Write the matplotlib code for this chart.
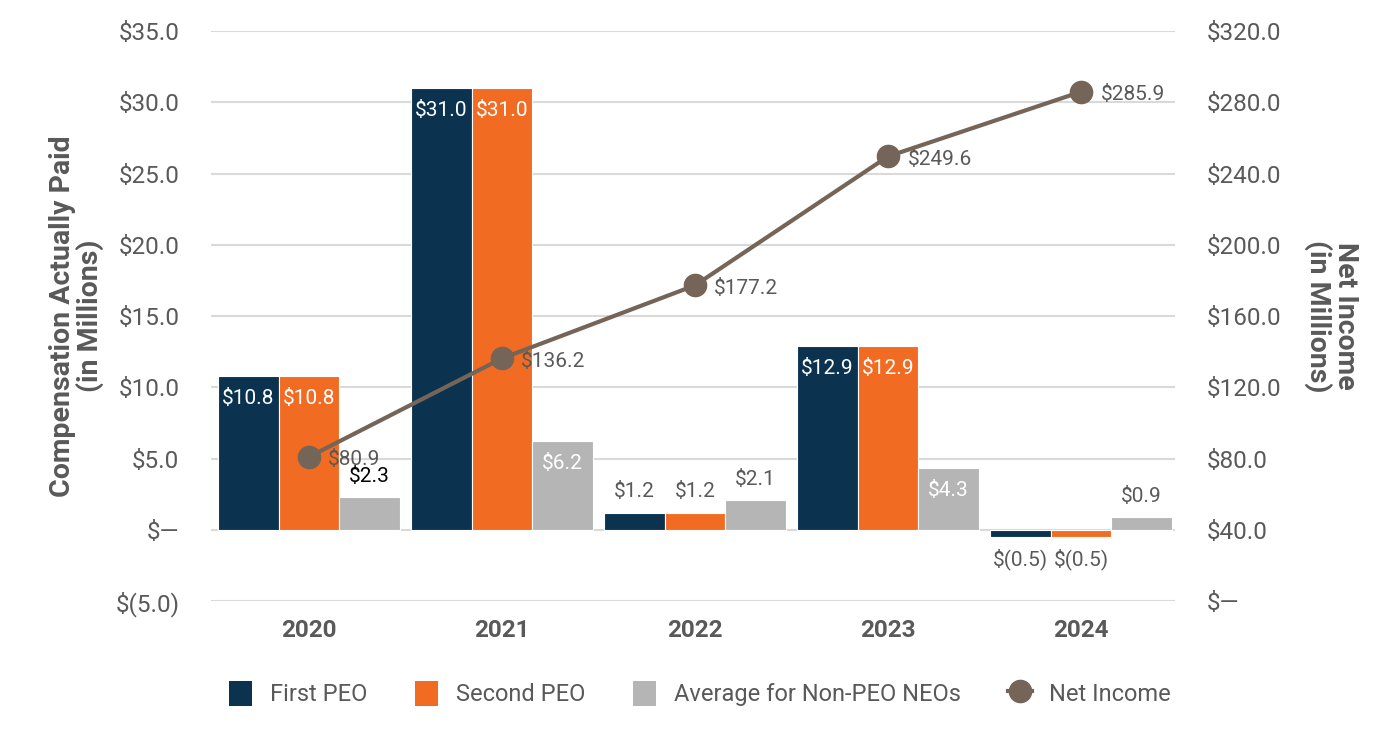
import matplotlib
matplotlib.use("Agg")
import matplotlib.pyplot as plt
from matplotlib.lines import Line2D
from matplotlib.patches import Patch
import numpy as np

plt.rcParams['font.family'] = ['Roboto', 'DejaVu Sans']

years = ["2020", "2021", "2022", "2023", "2024"]
first_peo = [10.8, 31.0, 1.2, 12.9, -0.5]
second_peo = [10.8, 31.0, 1.2, 12.9, -0.5]
avg_neo = [2.3, 6.2, 2.1, 4.3, 0.9]
net_income = [80.9, 136.2, 177.2, 249.6, 285.9]

navy = "#0B3350"
orange = "#F26B22"
gray = "#B5B5B5"
brown = "#756558"
text_gray = "#595959"


def money(v):
    if abs(v) < 1e-9:
        return "$\u2014"
    if v < 0:
        return "$({:.1f})".format(-v)
    return "${:.1f}".format(v)


fig = plt.figure(figsize=(14, 7.48), dpi=100)
ax = fig.add_axes([0.151, 0.1965, 0.688, 0.762])

x = np.arange(len(years))
width = 0.313

series = [(first_peo, navy, -width), (second_peo, orange, 0), (avg_neo, gray, width)]
for vals, color, off in series:
    rects = ax.bar(x + off, vals, width, color=color, edgecolor="white", linewidth=0.8, zorder=2)
    for r, v in zip(rects, vals):
        cx = r.get_x() + r.get_width() / 2
        if v > 4:
            ax.annotate(money(v), (cx, v), xytext=(0, -16), textcoords="offset points",
                        ha="center", va="center", color="white", fontsize=15, zorder=3)
        elif v >= 0:
            c = "black" if v == 2.3 else text_gray
            ax.annotate(money(v), (cx, v), xytext=(0, 15), textcoords="offset points",
                        ha="center", va="center", color=c, fontsize=15, zorder=3)
        else:
            ax.annotate(money(v), (cx, v), xytext=(0, -16), textcoords="offset points",
                        ha="center", va="center", color=text_gray, fontsize=15, zorder=3)

ax.set_ylim(-5, 35)
ax.set_xlim(-0.505, 4.485)
ax.set_yticks(np.arange(-5, 36, 5))
ax.set_yticklabels([money(v) for v in np.arange(-5, 36, 5)])
ax.set_xticks(x)
ax.set_xticklabels(years, fontweight="bold")
ax.grid(axis="y", color="#D9D9D9", linewidth=1.5, zorder=0)
ax.set_axisbelow(True)
for s in ax.spines.values():
    s.set_visible(False)
ax.tick_params(axis="y", length=0, pad=23, labelsize=17.5, labelcolor=text_gray)
ax.tick_params(axis="x", length=0, pad=13, labelsize=17.5, labelcolor=text_gray)
ax.set_ylabel("Compensation Actually Paid\n(in Millions)", fontsize=20.5, fontweight="bold",
              color=text_gray, labelpad=8, linespacing=1.0)

ax2 = ax.twinx()
ax2.set_ylim(0, 320)
ax2.set_yticks(np.arange(0, 321, 40))
ax2.set_yticklabels([money(v) for v in np.arange(0, 321, 40)])
for s in ax2.spines.values():
    s.set_visible(False)
ax2.tick_params(axis="y", length=0, pad=23, labelsize=17.5, labelcolor=text_gray)
ax2.plot(x, net_income, color=brown, linewidth=3, marker="o", markersize=16, zorder=4)
for xi, v in zip(x, net_income):
    ax2.annotate(money(v), (xi, v), xytext=(14, -2), textcoords="offset points",
                 ha="left", va="center", color=text_gray, fontsize=15)
ax2.set_ylabel("Net Income\n(in Millions)", fontsize=20.5, fontweight="bold", color=text_gray,
               rotation=270, labelpad=56, linespacing=1.0)

handles = [
    Patch(facecolor=navy, label="First PEO"),
    Patch(facecolor=orange, label="Second PEO"),
    Patch(facecolor=gray, label="Average for Non-PEO NEOs"),
    Line2D([0], [0], color=brown, linewidth=3, marker="o", markersize=16, label="Net Income"),
]
fig.legend(handles=handles, loc="center", bbox_to_anchor=(0.5, 0.073), ncol=4, frameon=False,
           fontsize=17, labelcolor=text_gray, handlelength=1.0, handleheight=1.3,
           columnspacing=2.0, handletextpad=0.75)

fig.savefig("out.png", dpi=100)
